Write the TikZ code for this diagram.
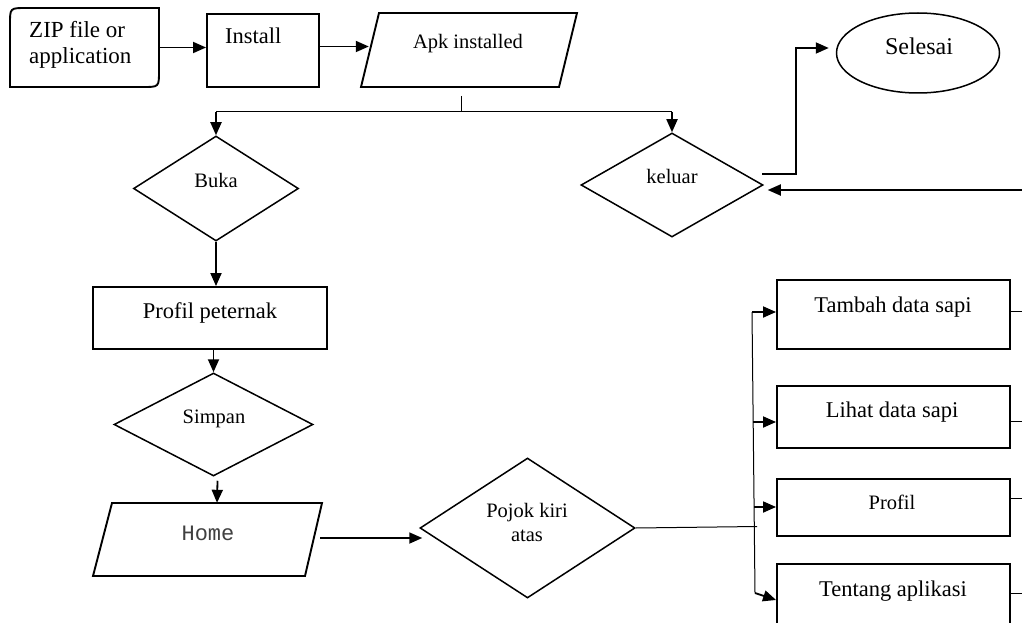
\documentclass[tikz,border=0pt]{standalone}
\usepackage{fontspec}
\setmainfont{Liberation Serif}
\newfontfamily\monofnt{Liberation Mono}
\usetikzlibrary{shapes.geometric,arrows.meta}
\begin{document}
\begin{tikzpicture}[x=1pt,y=-1pt,
  boxline/.style={draw=black,line width=1.9pt,line join=miter},
  rectbox/.style={boxline,rectangle,inner sep=0pt},
  dbox/.style={draw=black,line width=1.5pt,diamond,inner sep=0pt},
  anchorbox/.style={rectangle,inner sep=0pt},
  lbl/.style={inner sep=0pt,anchor=base,font=\fontsize{22.5}{26}\selectfont},
  slbl/.style={inner sep=0pt,anchor=base,font=\fontsize{20.5}{24}\selectfont},
  arr/.style={line width=1.8pt,-{Triangle[length=13pt,width=11pt]}},
  thinline/.style={line width=1pt},
]
\fill[white] (0,0) rectangle (1022,623);
\useasboundingbox (0,0) rectangle (1022,623);

% ZIP file or application (two rounded corners)
\node[anchorbox,minimum width=149pt,minimum height=79pt] (zip) at (84.5,47.5) {};
\draw[boxline] (10,87) -- (10,24) .. controls (10,8) .. (26,8) -- (159,8) -- (159,71)
  .. controls (159,87) .. (143,87) -- cycle;
\node[inner sep=0pt,anchor=north west,align=left,font=\fontsize{23}{26}\selectfont] (ziptext) at (29,21) {ZIP file or\\application};

% Install
\node[rectbox,minimum width=112pt,minimum height=73pt] (install) at (263,50.5) {};
\node[lbl,anchor=base west] (installtext) at (225,44) {Install};

% Apk installed (parallelogram)
\node[anchorbox,minimum width=200pt,minimum height=74pt] (apk) at (469,50) {};
\draw[boxline] (379,13) -- (577,13) -- (559,87) -- (361,87) -- cycle;
\node[slbl] (apktext) at (468,49) {Apk installed};

% Selesai
\node[draw=black,line width=1.5pt,ellipse,inner sep=0pt,minimum width=163pt,minimum height=80pt] (selesai) at (918,53) {};
\node[inner sep=0pt,anchor=base,font=\fontsize{24}{28}\selectfont] (selesaitext) at (919,55) {Selesai};

% Buka
\node[dbox,minimum width=165pt,minimum height=105pt] (buka) at (216,188.5) {};
\node[slbl] (bukatext) at (216,187) {Buka};

% keluar
\node[dbox,minimum width=182pt,minimum height=104pt] (keluar) at (672,185) {};
\node[slbl] (keluartext) at (672,183) {keluar};

% Profil peternak
\node[rectbox,minimum width=234pt,minimum height=62pt] (profil) at (210,318) {};
\node[lbl] (profiltext) at (210,318) {Profil peternak};

% Simpan
\node[dbox,minimum width=199pt,minimum height=103pt] (simpan) at (213.5,424.5) {};
\node[slbl] (simpantext) at (214,423) {Simpan};

% Home (parallelogram)
\node[anchorbox,minimum width=214pt,minimum height=73pt] (home) at (208,539.5) {};
\draw[boxline] (112,503) -- (322,503) -- (305,576) -- (93,576) -- cycle;
\node[inner sep=0pt,anchor=base,font=\monofnt\fontsize{22}{26}\selectfont,text=black!75] (hometext) at (208,540) {Home};

% Pojok kiri atas
\node[dbox,minimum width=215pt,minimum height=140pt] (pojok) at (527.5,528) {};
\node[inner sep=0pt,anchor=north,align=center,font=\fontsize{20.5}{24}\selectfont] (pojoktext) at (527,503.5) {Pojok kiri\\atas};

% Right column boxes
\node[rectbox,minimum width=233pt,minimum height=69pt] (r1) at (893.5,314.5) {};
\node[lbl] (r1text) at (893,312) {Tambah data sapi};
\node[rectbox,minimum width=233pt,minimum height=62pt] (r2) at (893.5,417) {};
\node[lbl] (r2text) at (892,417) {Lihat data sapi};
\node[rectbox,minimum width=233pt,minimum height=57pt] (r3) at (893.5,507.5) {};
\node[slbl] (r3text) at (892,509) {Profil};
\node[rectbox,minimum width=233pt,minimum height=86pt] (r4) at (893.5,607) {};
\node[lbl] (r4text) at (893,596) {Tentang aplikasi};

% ---- connectors ----
\draw[arr] (zip.east) -- (zip.east -| install.west);
\draw[arr] ([yshift=4pt]install.east) -- ([yshift=4pt]install.east -| apk.west);

\coordinate (stubtop) at (461,96);
\coordinate (branch) at (461,112);
\draw[thinline] (stubtop) -- (branch);
\draw[thinline] (buka.north |- branch) -- (keluar.north |- branch);
\draw[arr] (buka.north |- branch) -- (buka.north);
\draw[arr] (keluar.north |- branch) -- (keluar.north);

\draw[arr] (buka.south) -- (buka.south |- profil.north);
\draw[arr] (simpan.north |- profil.south) -- (simpan.north);
\draw[arr] ([shift={(4,4)}]simpan.south) -- ([xshift=9pt]home.north);

\coordinate (hout) at (320,538);
\draw[arr] (hout) -- ([xshift=3pt]hout -| pojok.west);

% keluar -> Selesai
\coordinate (kout) at (762,174);
\coordinate (kbend) at (796,174);
\draw[arr] (kout) -- (kbend) |- ([shift={(-7,-5)}]selesai.west);

% incoming from the right
\coordinate (rin) at (1022,190);
\draw[arr] (rin) -- ([shift={(4,5)}]keluar.east);

% Pojok -> menu bus
\coordinate (busJ) at (757,526.5);
\coordinate (busT) at (752,312);
\coordinate (busB) at (755,593);
\draw[thinline] (pojok.east) -- (busJ);
\draw[thinline] (busT) -- (busB);
\coordinate (b2) at (753,422);
\coordinate (b3) at (754,507);
\draw[arr] (busT) -- (busT -| r1.west);
\draw[arr] (b2) -- (b2 -| r2.west);
\draw[arr] (b3) -- (b3 -| r3.west);
\draw[arr] (busB) -- ([yshift=7pt]r4.west);

% stubs leaving to the right
\coordinate (o1) at (1022,311);
\coordinate (o2) at (1022,421);
\coordinate (o3) at (1022,498);
\coordinate (o4) at (1022,593);
\draw[thinline] (o1 -| r1.east) -- (o1);
\draw[thinline] (o2 -| r2.east) -- (o2);
\draw[thinline] (o3 -| r3.east) -- (o3);
\draw[thinline] (o4 -| r4.east) -- (o4);
\end{tikzpicture}
\end{document}
